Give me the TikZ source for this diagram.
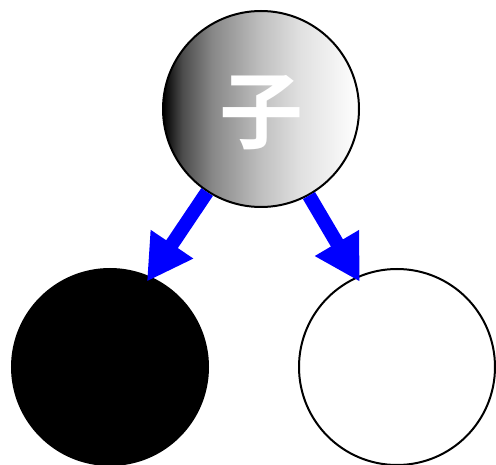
\documentclass[tikz,border=0pt]{standalone}
\usepackage{fontspec}
\newfontfamily\cjkbold{Noto Sans CJK SC Bold}
\usetikzlibrary{arrows.meta}
\pgfdeclarehorizontalshading{topshade}{100bp}{color(0bp)=(black); color(25bp)=(black); color(30bp)=(black!70); color(37.5bp)=(black!47); color(50bp)=(black!25); color(60bp)=(black!12); color(70bp)=(black!4); color(75bp)=(white); color(100bp)=(white)}
\tikzset{
  ball/.style={circle, draw=black, line width=2pt, minimum size=196pt, inner sep=0pt},
  bluearrow/.style={draw=blue, line width=14pt, -{Triangle[length=45pt,width=48pt]}, shorten >=-6pt},
  glyph/.style={text=white, inner sep=0pt, font=\cjkbold\fontsize{84pt}{84pt}\selectfont}
}
\begin{document}
\begin{tikzpicture}[x=1pt,y=-1pt]
\useasboundingbox (0,0) rectangle (496,465);
\node[ball, fill=black] (left) at (110,367) {};
\node[ball, fill=white] (right) at (397,367) {};
\node[ball, shading=topshade] (top) at (261,109) {};
\node[glyph] (toplabel) at ([yshift=-4pt]top.center) {子};
\draw[bluearrow] (top.237) -- (left.66);
\draw[bluearrow] (top.299) -- (right.114);
\end{tikzpicture}
\end{document}
